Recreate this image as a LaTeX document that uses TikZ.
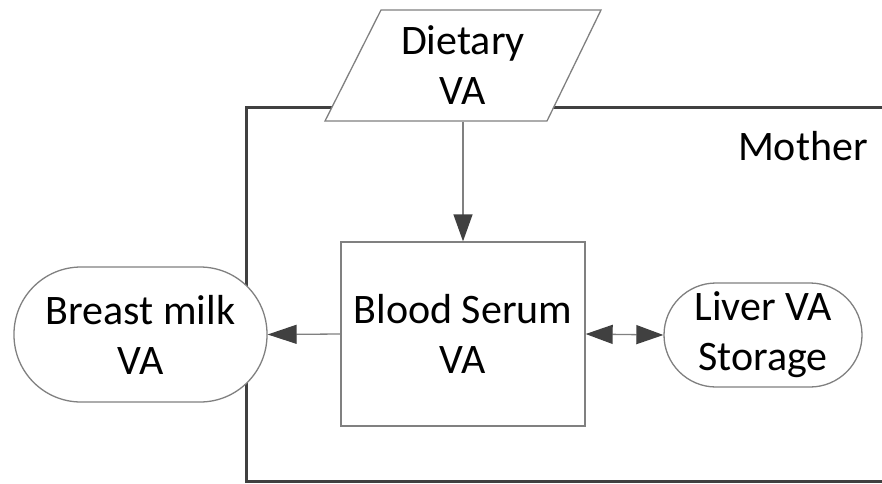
\documentclass[tikz,border=0pt]{standalone}
\usepackage{fontspec}
\setmainfont{Carlito}
\usetikzlibrary{arrows.meta}
\definecolor{thinline}{HTML}{808080}
\definecolor{darkline}{HTML}{404040}
\tikzset{
  blk/.style={draw=thinline, line width=1.3pt, fill=white, align=center, inner sep=0pt,
    font=\fontsize{42}{50}\selectfont, text=black},
  conn/.style={draw=thinline, line width=1.3pt},
  dtip/.tip={Triangle[length=27pt,width=19pt,color=darkline]},
  ltip/.tip={Triangle[length=29pt,width=19pt,color=darkline]},
}
\begin{document}
\begin{tikzpicture}[x=1pt,y=-1pt]
\useasboundingbox (0,0) rectangle (882,483);
% Mother frame
\draw[darkline, line width=3pt] (884,107) -- (246,107) -- (246,481) -- (884,481);
\node[anchor=base east, font=\fontsize{42}{50}\selectfont, inner sep=0pt] (mother) at (868,160) {Mother};
% Dietary parallelogram
\filldraw[draw=thinline, fill=white, line width=1.3pt] (381,10) -- (601,10) -- (547,121) -- (325,121) -- cycle;
\node[blk, draw=none, fill=none, minimum width=220pt, minimum height=111pt] (diet) at (463,65.5) {Dietary\\VA};
% Blood serum
\node[blk, minimum width=244pt, minimum height=184pt] (blood) at (463,334) {Blood Serum\\VA};
% Breast milk
\node[blk, minimum width=253pt, minimum height=135pt, rounded corners=67pt] (milk) at (140.5,334.5) {Breast milk\\VA};
% Liver
\node[blk, minimum width=198pt, minimum height=104pt, rounded corners=52pt] (liver) at (763,335) {Liver VA\\Storage};
% Connectors
\draw[conn, -dtip] (diet.south) -- (blood.north);
\draw[conn, -ltip] (blood.west) -- (milk.east);
\draw[conn, dtip-dtip] (blood.east) -- (liver.west);
\end{tikzpicture}
\end{document}
